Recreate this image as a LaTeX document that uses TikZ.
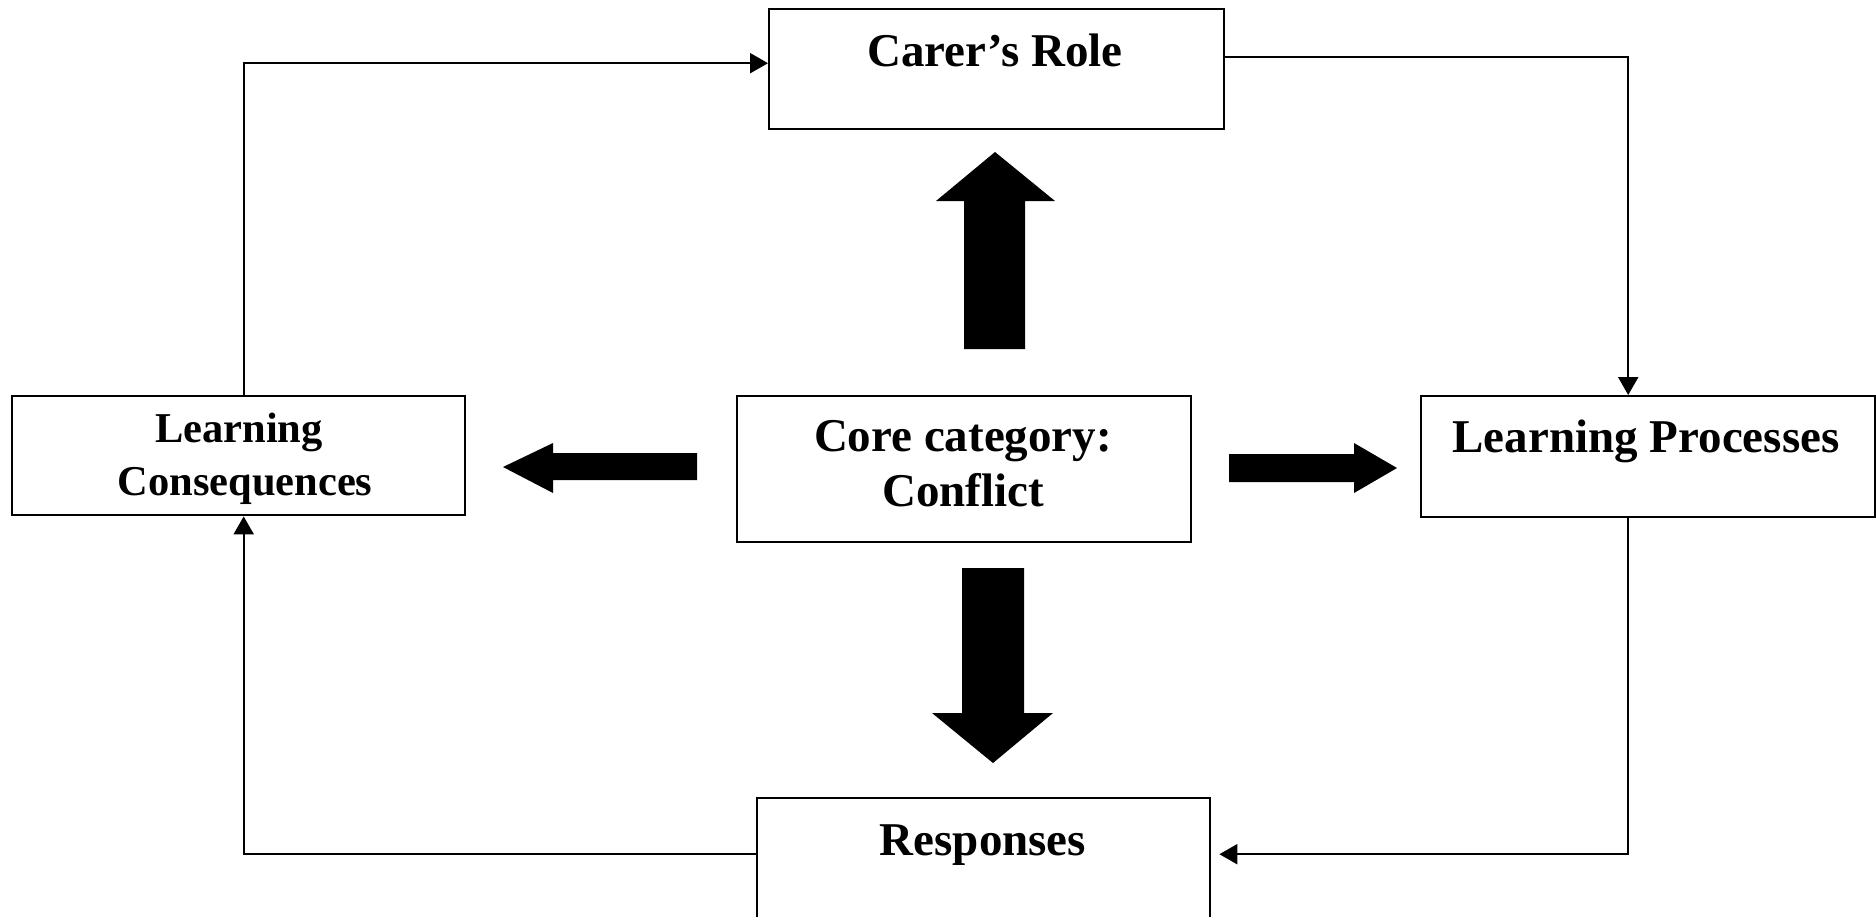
\documentclass[tikz,border=0pt]{standalone}
\usepackage{fontspec}
\setmainfont{Liberation Serif}
\usetikzlibrary{arrows.meta}

\tikzset{
  box/.style={draw, line width=2.4pt, inner sep=0pt, anchor=north west},
  conn/.style={line width=2.2pt, -{Triangle[length=18pt,width=20pt]}},
  bigtxt/.style={font=\fontsize{47}{56}\selectfont\bfseries, inner sep=0pt, anchor=base},
  midtxt/.style={font=\fontsize{42.5}{52}\selectfont\bfseries, inner sep=0pt, anchor=base},
  fat/.style={fill=black}
}

\begin{document}
\begin{tikzpicture}[x=1pt,y=-1pt]
  \useasboundingbox (0,0) rectangle (1876,916);
  \clip (0,0) rectangle (1876,916);

  % boxes
  \node[box, minimum width=455pt, minimum height=120pt] (carer) at (768,8) {};
  \node[box, minimum width=453pt, minimum height=119pt] (lc)    at (11,395) {};
  \node[box, minimum width=454pt, minimum height=146pt] (core)  at (736,395) {};
  \node[box, minimum width=454pt, minimum height=121pt] (lp)    at (1420,395) {};
  \node[box, minimum width=453pt, minimum height=140pt] (resp)  at (756,797) {};

  % labels
  \node[bigtxt] (carerT) at (995,66) {Carer’s Role};
  \node[midtxt] (lcA) at (239,442) {Learning};
  \node[midtxt] (lcB) at (245,495) {Consequences};
  \node[bigtxt] (coreA) at (963,451) {Core category:};
  \node[bigtxt] (coreB) at (963,506) {Conflict};
  \node[bigtxt] (lpT) at (1646,452) {Learning Processes};
  \node[bigtxt] (respT) at (983,855) {Responses};

  % feedback loop
  \draw[conn] ([xshift=5pt]lc.north) |- ([yshift=6pt]carer.west);
  \draw[conn] ([yshift=12pt]carer.east) -| ([xshift=-20pt]lp.north);
  \draw[conn, shorten >=8pt] ([xshift=-20pt]lp.south) |- ([yshift=14pt]resp.east);
  \draw[conn] ([yshift=14pt]resp.west) -| ([xshift=5pt]lc.south);

  % block arrows out of the core category
  \fill[fat] (964,349) -- (964,201) -- (936,201) -- (995,152) -- (1055,201)
             -- (1025,201) -- (1025,349) -- cycle;
  \fill[fat] (697,453) -- (553,453) -- (553,443) -- (503,467) -- (553,493)
             -- (553,480) -- (697,480) -- cycle;
  \fill[fat] (1229,454) -- (1354,454) -- (1354,443) -- (1397,468) -- (1354,493)
             -- (1354,482) -- (1229,482) -- cycle;
  \fill[fat] (962,568) -- (1024,568) -- (1024,713) -- (1053,713) -- (993,763)
             -- (932,713) -- (962,713) -- cycle;
\end{tikzpicture}
\end{document}
